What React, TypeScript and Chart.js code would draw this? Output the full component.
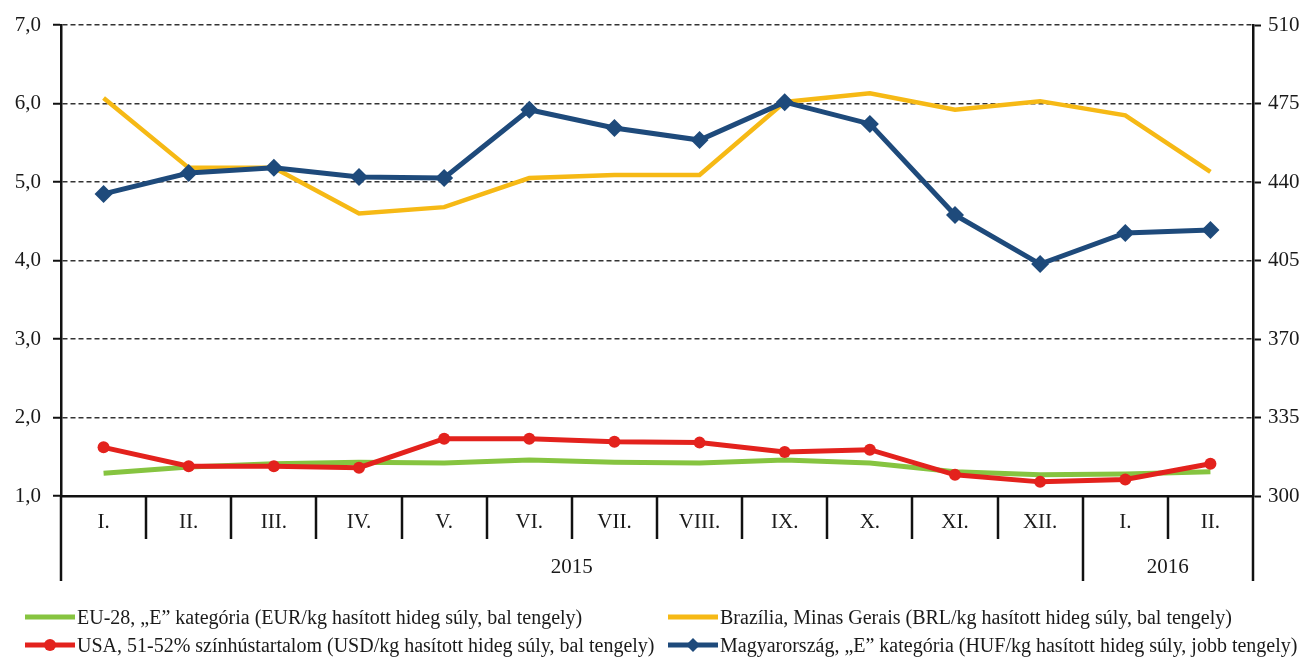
import React, { useEffect, useRef } from "react";
import { Chart, registerables } from "chart.js";

Chart.register(...registerables);

const months = ["I.", "II.", "III.", "IV.", "V.", "VI.", "VII.", "VIII.", "IX.", "X.", "XI.", "XII.", "I.", "II."];
const years = ["2015", "2016"];
const yearSpans = [12, 2];

const euValues = [1.29, 1.37, 1.41, 1.43, 1.42, 1.46, 1.43, 1.42, 1.46, 1.42, 1.31, 1.27, 1.28, 1.31];
const brazilValues = [6.07, 5.18, 5.18, 4.6, 4.68, 5.05, 5.09, 5.09, 6.02, 6.13, 5.92, 6.03, 5.85, 5.13];
const usaValues = [1.62, 1.38, 1.38, 1.36, 1.73, 1.73, 1.69, 1.68, 1.56, 1.59, 1.27, 1.18, 1.21, 1.41];
const hufValues = [434.7, 444.0, 446.3, 442.2, 441.8, 472.2, 464.1, 458.7, 475.6, 465.9, 425.3, 403.4, 417.3, 418.6];

const leftMin = 1;
const leftMax = 7;
const leftStep = 1;
const rightMin = 300;
const rightMax = 510;
const rightStep = 35;

const euLabel = "EU-28, „E” kategória (EUR/kg hasított hideg súly, bal tengely)";
const brazilLabel = "Brazília, Minas Gerais (BRL/kg hasított hideg súly, bal tengely)";
const usaLabel = "USA, 51-52% színhústartalom (USD/kg hasított hideg súly, bal tengely)";
const hufLabel = "Magyarország, „E” kategória (HUF/kg hasított hideg súly, jobb tengely)";

const GREEN = "#86C440";
const YELLOW = "#F6B915";
const RED = "#E3221D";
const BLUE = "#1E4A7B";
const FONT = "'Liberation Serif', 'Times New Roman', serif";

const separatorPlugin = {
  id: "separators",
  afterDraw(chart: any) {
    const x = chart.scales.x;
    const ctx = chart.ctx;
    const n = months.length;
    const step = (x.right - x.left) / n;
    const bottom = x.top;
    const yearBounds = new Set<number>();
    let acc = 0;
    yearBounds.add(0);
    yearSpans.forEach((s) => {
      acc += s;
      yearBounds.add(acc);
    });
    ctx.save();
    ctx.strokeStyle = "#111";
    ctx.lineWidth = 2.5;
    ctx.setLineDash([]);
    for (let i = 0; i <= n; i++) {
      const px = Math.round(x.left + i * step);
      const len = yearBounds.has(i) ? 85 : 43;
      ctx.beginPath();
      ctx.moveTo(px, bottom);
      ctx.lineTo(px, bottom + len);
      ctx.stroke();
    }
    ctx.fillStyle = "#1a1a1a";
    ctx.font = `21px ${FONT}`;
    ctx.textAlign = "center";
    ctx.textBaseline = "middle";
    let start = 0;
    years.forEach((yr, k) => {
      const end = start + yearSpans[k];
      const cx = x.left + ((start + end) / 2) * step;
      ctx.fillText(yr, cx, bottom + 71);
      start = end;
    });
    ctx.restore();
  },
};

function LegendMarker({ color, marker }: { color: string; marker?: "circle" | "diamond" }) {
  return (
    <svg width={50} height={16} style={{ display: "block" }}>
      <line x1={0} y1={8} x2={50} y2={8} stroke={color} strokeWidth={5} />
      {marker === "circle" && <circle cx={25} cy={8} r={6} fill={color} />}
      {marker === "diamond" && <polygon points="25,1 32,8 25,15 18,8" fill={color} />}
    </svg>
  );
}

function LegendItem({ left, top, color, marker, text }: any) {
  return (
    <div
      style={{
        position: "absolute",
        left,
        top,
        display: "flex",
        alignItems: "center",
        fontFamily: FONT,
        fontSize: 20,
        color: "#1a1a1a",
        whiteSpace: "nowrap",
        height: 24,
      }}
    >
      <LegendMarker color={color} marker={marker} />
      <span style={{ marginLeft: 2 }}>{text}</span>
    </div>
  );
}

export default function App() {
  const canvasRef = useRef<HTMLCanvasElement | null>(null);

  useEffect(() => {
    const canvas = canvasRef.current;
    if (!canvas) return;
    const chart = new Chart(canvas, {
      type: "line",
      data: {
        labels: months,
        datasets: [
          {
            label: hufLabel,
            data: hufValues,
            yAxisID: "y1",
            borderColor: BLUE,
            backgroundColor: BLUE,
            borderWidth: 5,
            pointStyle: "rectRot",
            pointRadius: 9,
            pointBorderWidth: 0,
            tension: 0,
          },
          {
            label: usaLabel,
            data: usaValues,
            yAxisID: "y",
            borderColor: RED,
            backgroundColor: RED,
            borderWidth: 5,
            pointStyle: "circle",
            pointRadius: 6,
            pointBorderWidth: 0,
            tension: 0,
          },
          {
            label: brazilLabel,
            data: brazilValues,
            yAxisID: "y",
            borderColor: YELLOW,
            backgroundColor: YELLOW,
            borderWidth: 4.5,
            pointRadius: 0,
            tension: 0,
          },
          {
            label: euLabel,
            data: euValues,
            yAxisID: "y",
            borderColor: GREEN,
            backgroundColor: GREEN,
            borderWidth: 5,
            pointRadius: 0,
            tension: 0,
          },
        ],
      },
      options: {
        responsive: false,
        animation: false,
        devicePixelRatio: 1,
        layout: { padding: { left: 0, right: 0, top: 25, bottom: 81 } },
        plugins: {
          legend: { display: false },
          tooltip: { enabled: false },
        },
        scales: {
          x: {
            type: "category",
            offset: true,
            afterFit: (s: any) => {
              s.height = 85;
            },
            grid: { display: true, drawOnChartArea: false, drawTicks: false },
            border: { display: true, color: "#111", width: 2.5 },
            ticks: {
              padding: 14,
              color: "#1a1a1a",
              font: { family: FONT, size: 21 },
              maxRotation: 0,
              autoSkip: false,
            },
          },
          y: {
            position: "left",
            min: leftMin,
            max: leftMax,
            afterFit: (s: any) => {
              s.width = 61;
            },
            grid: {
              color: "#333",
              lineWidth: 1.5,
              tickLength: 8,
              tickColor: "#111",
              tickWidth: 2,
              tickBorderDash: [],
            } as any,
            border: { display: true, color: "#111", width: 2.5, dash: [5, 3] } as any,
            ticks: {
              stepSize: leftStep,
              padding: 12,
              color: "#1a1a1a",
              font: { family: FONT, size: 21 },
              callback: (v: any) => Number(v).toFixed(1).replace(".", ","),
            },
          },
          y1: {
            position: "right",
            min: rightMin,
            max: rightMax,
            afterFit: (s: any) => {
              s.width = 61;
            },
            grid: {
              drawOnChartArea: false,
              tickLength: 8,
              tickColor: "#111",
              tickWidth: 2,
            } as any,
            border: { display: true, color: "#111", width: 2.5 },
            ticks: {
              stepSize: rightStep,
              padding: 7,
              color: "#1a1a1a",
              font: { family: FONT, size: 21 },
            },
          },
        },
      },
      plugins: [separatorPlugin],
    } as any);
    return () => chart.destroy();
  }, []);

  return (
    <div
      style={{
        position: "fixed",
        left: 0,
        top: 0,
        width: 1314,
        height: 662,
        background: "#fff",
        overflow: "hidden",
      }}
    >
      <canvas ref={canvasRef} width={1314} height={662} style={{ width: 1314, height: 662, display: "block" }} />
      <LegendItem left={25} top={605} color={GREEN} text={euLabel} />
      <LegendItem left={668} top={605} color={YELLOW} text={brazilLabel} />
      <LegendItem left={25} top={633} color={RED} marker="circle" text={usaLabel} />
      <LegendItem left={668} top={633} color={BLUE} marker="diamond" text={hufLabel} />
    </div>
  );
}
